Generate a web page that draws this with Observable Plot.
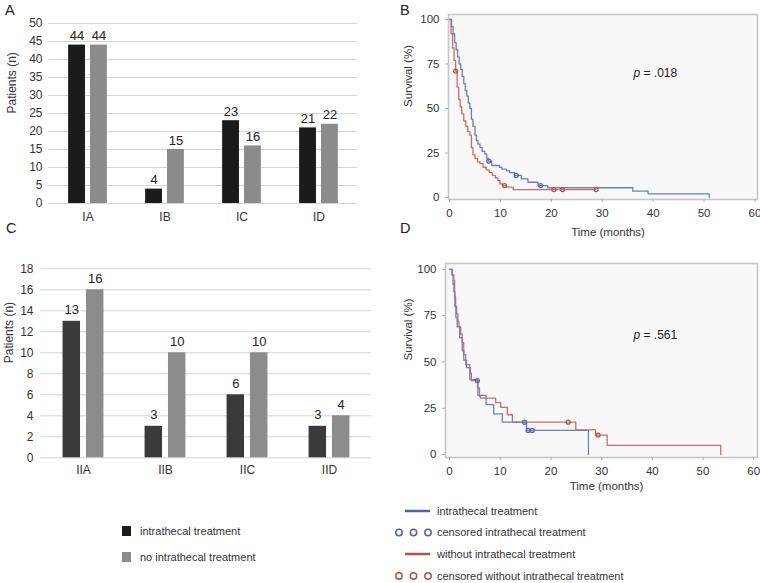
<!DOCTYPE html>
<html><head><meta charset="utf-8">
<script src="https://cdn.jsdelivr.net/npm/d3@7"></script>
<script src="https://cdn.jsdelivr.net/npm/@observablehq/plot@0.6"></script>
<style>
html,body{margin:0;padding:0;background:#fff;}
#root{position:relative;width:760px;height:583px;overflow:hidden;font-family:"Liberation Sans",Arial,sans-serif;color:#333;}
.panel{position:absolute;}
.panel svg{overflow:visible;}
#overlay{position:absolute;left:0;top:0;}
</style></head><body><div id="root"><svg id="overlay" width="760" height="583"></svg></div>
<script>
// ---------- DATA ----------
const catsA = ["IA", "IB", "IC", "ID"];
const intraA = [44, 4, 23, 21];
const noIntraA = [44, 15, 16, 22];
const ticksA = [0, 5, 10, 15, 20, 25, 30, 35, 40, 45, 50];

const catsC = ["IIA", "IIB", "IIC", "IID"];
const intraC = [13, 3, 6, 3];
const noIntraC = [16, 10, 10, 4];
const ticksC = [0, 2, 4, 6, 8, 10, 12, 14, 16, 18];

const timeTicks = [0, 10, 20, 30, 40, 50, 60];
const survTicks = [0, 25, 50, 75, 100];

// Panel B (Kaplan-Meier)
const bIntraT = [0, 0.4, 0.7, 1.0, 1.3, 1.6, 1.9, 2.2, 2.5, 2.8, 3.1, 3.4, 3.7, 4.0, 4.3, 4.6, 5.0, 5.3, 5.6, 6.0, 6.4, 6.9, 7.3, 7.6, 8.3, 9.8, 10.3, 11.2, 11.8, 12.8, 14.1, 15.4, 17.4, 19.3, 36.0, 39.0, 51.0];
const bIntraS = [100, 96, 92, 87, 83, 79, 75, 72, 68, 64, 60, 57, 53, 50, 44, 40, 35, 32, 30, 28, 26, 24.5, 22, 20.5, 18, 17, 16, 15, 14, 12.4, 10.5, 8.6, 6.7, 5.5, 3.6, 2.1, 0];
const bIntraCensT = [7.7, 13.1, 17.9];
const bIntraCensS = [20.5, 12.4, 6.7];
const bNoT = [0, 0.3, 0.6, 0.9, 1.2, 1.5, 1.8, 2.1, 2.4, 2.8, 3.2, 3.6, 4.0, 4.3, 4.6, 5.0, 5.5, 6.0, 6.6, 7.2, 7.8, 8.4, 9.0, 9.5, 9.9, 10.4, 11.2, 12.5, 28.8];
const bNoS = [100, 92, 84, 77, 71, 62, 55, 51, 47, 43, 40, 37, 35, 28, 24, 22, 20, 19, 17, 15.5, 14, 12.5, 11, 9.5, 7.7, 6.7, 5.8, 4.5, 4.5];
const bNoCensT = [1.2, 10.8, 20.5, 22.2, 28.8];
const bNoCensS = [71, 6.7, 4.5, 4.5, 4.5];

// Panel D (Kaplan-Meier)
const dIntraT = [0, 0.5, 0.7, 0.85, 1.05, 1.25, 1.5, 2.0, 2.5, 2.8, 3.35, 4.1, 4.3, 5.6, 7.2, 8.7, 10.4, 15.2, 27.4];
const dIntraS = [100, 97, 92, 88, 80, 74, 69, 63, 56, 51, 47, 44, 40, 32, 27, 22, 17.5, 13, 0];
const dIntraCensT = [5.5, 14.8, 15.5, 16.3];
const dIntraCensS = [40, 17.5, 13, 13];
const dNoT = [0, 0.5, 0.85, 1.0, 1.2, 1.4, 1.65, 1.85, 2.2, 2.5, 2.8, 3.2, 4.0, 5.5, 5.9, 6.1, 9.1, 10.1, 11.4, 12.4, 24.9, 28.8, 31.1, 53.5];
const dNoS = [100, 97, 94, 85, 80, 76, 72, 69, 65, 60.5, 54, 48.5, 40.5, 36, 31.5, 30.5, 28, 25.5, 21.5, 17.5, 13.3, 10.5, 5, 0];
const dNoCensT = [23.4, 29.3];
const dNoCensS = [17.5, 10.5];

const legendBars = ["intrathecal treatment", "no intrathecal treatment"];
const legendKM = ["intrathecal treatment", "censored intrathecal treatment", "without intrathecal treatment", "censored without intrathecal treatment"];

// ---------- HELPERS ----------
const FONT = "Liberation Sans, Arial, Helvetica, sans-serif";
const rowsOf = (cats, vals) => cats.map((c, i) => ({cat: c, value: vals[i]}));
const ptsOf = (ts, ss) => ts.map((t, i) => ({t, s: ss[i]}));
const root = document.getElementById("root");
function place(node, left, top) {
  const d = document.createElement("div");
  d.className = "panel";
  d.style.left = left + "px";
  d.style.top = top + "px";
  d.appendChild(node);
  root.appendChild(d);
}

const BLUE = "#6f7ebd", RED = "#c96f60", BLUE_D = "#5361a6", RED_D = "#ad5447";

function barPanel(o) {
  const half = o.band / 2;
  return Plot.plot({
    width: 380, height: o.height,
    marginLeft: o.mL, marginRight: o.mR, marginTop: o.mT, marginBottom: o.mB,
    x: {type: "band", domain: o.cats, padding: 0},
    y: {domain: [0, o.ymax]},
    style: {fontFamily: FONT, fontSize: "12px", color: "#333", background: "transparent"},
    marks: [
      Plot.ruleY(o.ticks, {stroke: "#d3d3d3", strokeWidth: 1}),
      Plot.barY(rowsOf(o.cats, o.a), {x: "cat", y: "value", fill: o.colA, insetLeft: half - o.outer, insetRight: half + o.inner}),
      Plot.barY(rowsOf(o.cats, o.b), {x: "cat", y: "value", fill: o.colB, insetLeft: half + o.inner, insetRight: half - o.outer}),
      Plot.text(rowsOf(o.cats, o.a), {x: "cat", y: "value", text: d => String(d.value), dx: -(o.outer + o.inner) / 2, dy: o.labDy, lineAnchor: "bottom", fontSize: 13, fill: "#222"}),
      Plot.text(rowsOf(o.cats, o.b), {x: "cat", y: "value", text: d => String(d.value), dx: (o.outer + o.inner) / 2, dy: o.labDy, lineAnchor: "bottom", fontSize: 13, fill: "#222"}),
      Plot.axisY(o.ticks, {tickSize: 0, tickPadding: o.yPad, label: null, fontSize: 12}),
      Plot.axisX({tickSize: 0, tickPadding: o.xPad, label: null, fontSize: 12}),
      Plot.text(["Patients (n)"], {frameAnchor: "left", dx: o.titleDx, rotate: -90, fontSize: 12, fill: "#333"})
    ]
  });
}

function kmPanel(o) {
  return Plot.plot({
    width: 380, height: o.height,
    marginLeft: o.mL, marginRight: o.mR, marginTop: o.mT, marginBottom: o.mB,
    x: {domain: o.xdom},
    y: {domain: o.ydom},
    style: {fontFamily: FONT, fontSize: "11px", color: "#333", background: "transparent"},
    marks: [
      Plot.frame({fill: "#f8f8f8", stroke: "#c6c6c6", strokeWidth: 1.6}),
      Plot.line(ptsOf(o.noT, o.noS), {x: "t", y: "s", curve: "step-after", stroke: RED, strokeWidth: 1.3}),
      Plot.line(ptsOf(o.inT, o.inS), {x: "t", y: "s", curve: "step-after", stroke: BLUE, strokeWidth: 1.3}),
      Plot.dot(ptsOf(o.noCT, o.noCS), {x: "t", y: "s", r: 2, stroke: RED_D, strokeWidth: 1.2, fill: "none"}),
      Plot.dot(ptsOf(o.inCT, o.inCS), {x: "t", y: "s", r: 2, stroke: BLUE_D, strokeWidth: 1.2, fill: "none"}),
      Plot.axisX(timeTicks, {tickSize: 3, tickPadding: 6, label: null, stroke: "#aaa", fontSize: 11.5}),
      Plot.axisY(survTicks, {tickSize: 3, tickPadding: 6, label: null, stroke: "#aaa", fontSize: 11.5}),
      Plot.text(["Survival (%)"], {frameAnchor: "left", dx: o.survDx, rotate: -90, fontSize: 11.5, fill: "#333"}),
      Plot.text(["Time (months)"], {frameAnchor: "bottom", dx: 5, dy: o.timeDy, fontSize: 11.5, fill: "#333"}),
      Plot.text(["p"], {frameAnchor: "top", dx: o.pDx, dy: o.pDy, textAnchor: "start", fontStyle: "italic", fontSize: 12, fill: "#222"}),
      Plot.text([o.pText], {frameAnchor: "top", dx: o.pDx + 10, dy: o.pDy, textAnchor: "start", fontSize: 12, fill: "#222"})
    ]
  });
}

// ---------- PANELS ----------
place(barPanel({cats: catsA, a: intraA, b: noIntraA, ticks: ticksA, ymax: 50, height: 230,
  mL: 48, mR: 23, mT: 23, mB: 27, band: 77.25, outer: 19.5, inner: 2.4,
  colA: "#1b1b1b", colB: "#8b8b8b", labDy: -5, yPad: 6, xPad: 9, titleDx: -36}), 0, 0);

place(barPanel({cats: catsC, a: intraC, b: noIntraC, ticks: ticksC, ymax: 18, height: 250,
  mL: 40, mR: 9, mT: 38.3, mB: 22.7, band: 82.75, outer: 20.8, inner: 2.6,
  colA: "#3a3a3a", colB: "#8c8c8c", labDy: -7, yPad: 7, xPad: 8, titleDx: -31}), 0, 230);

place(kmPanel({height: 245, mL: 68, mR: 3, mT: 14, mB: 46, xdom: [-0.2, 60.5], ydom: [-1.1, 102.8],
  inT: bIntraT, inS: bIntraS, noT: bNoT, noS: bNoS,
  inCT: bIntraCensT, inCS: bIntraCensS, noCT: bNoCensT, noCS: bNoCensS,
  survDx: -40, timeDy: 36, pDx: 30.5, pDy: 54, pText: "= .018"}), 380, 0);

place(kmPanel({height: 250, mL: 65, mR: 3, mT: 13, mB: 43, xdom: [-0.8, 60.75], ydom: [-1.6, 103.2],
  inT: dIntraT, inS: dIntraS, noT: dNoT, noS: dNoS,
  inCT: dIntraCensT, inCS: dIntraCensS, noCT: dNoCensT, noCS: dNoCensS,
  survDx: -37, timeDy: 32, pDx: 32, pDy: 67, pText: "= .561"}), 380, 250);

// ---------- OVERLAY: panel letters and legends ----------
const ov = d3.select("#overlay").style("font-family", FONT);
[["A", 5, 15], ["B", 400, 15], ["C", 6, 233], ["D", 400, 233]].forEach(([t, x, y]) =>
  ov.append("text").attr("x", x).attr("y", y).attr("font-size", 14.5).attr("fill", "#222").text(t));

// bar legend
[["#1b1b1b", 531], ["#8b8b8b", 557]].forEach(([c, y], i) => {
  ov.append("rect").attr("x", 122).attr("y", y - 5).attr("width", 9).attr("height", 10).attr("fill", c);
  ov.append("text").attr("x", 140).attr("y", y).attr("dy", "0.35em").attr("font-size", 11).attr("fill", "#333").text(legendBars[i]);
});

// KM legend
const rowsY = [511, 532.5, 554, 576];
[[BLUE_D, "line"], [BLUE_D, "dots"], [RED_D, "line"], [RED_D, "dots"]].forEach(([c, kind], i) => {
  const y = rowsY[i];
  if (kind === "line") {
    ov.append("line").attr("x1", 405).attr("x2", 430).attr("y1", y).attr("y2", y).attr("stroke", c).attr("stroke-width", 2.5);
  } else {
    [399, 413.5, 428].forEach(x => ov.append("circle").attr("cx", x).attr("cy", y).attr("r", 3.2)
      .attr("fill", "none").attr("stroke", c).attr("stroke-width", 1.5));
  }
  ov.append("text").attr("x", 437).attr("y", y).attr("dy", "0.35em").attr("font-size", 11).attr("fill", "#333").text(legendKM[i]);
});
</script>
</body></html>
